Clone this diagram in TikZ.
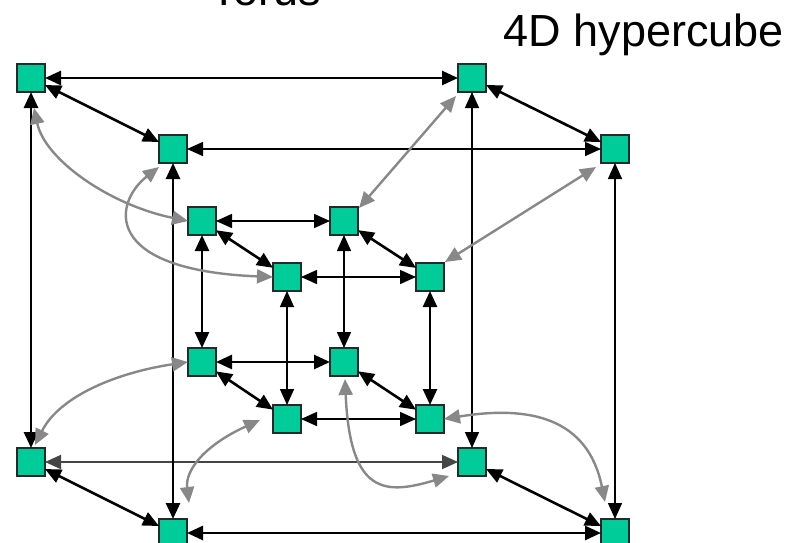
\documentclass[tikz,border=0pt]{standalone}
\usepackage{fontspec}
\setmainfont{Liberation Sans}
\usetikzlibrary{arrows.meta,calc}
\definecolor{nodefill}{RGB}{0,204,153}
\definecolor{nodeborder}{RGB}{40,40,40}
\definecolor{edgegrey}{RGB}{136,136,136}
\definecolor{darkline}{RGB}{70,70,70}
\begin{document}
\begin{tikzpicture}[x=1pt,y=-1pt,
  sq/.style={draw=nodeborder, line width=1.4pt, fill=nodefill, minimum size=28pt, inner sep=0pt, outer sep=0pt},
  tip/.style={{Triangle[length=16pt,width=14pt]}-{Triangle[length=16pt,width=14pt]}},
  thk/.style={tip, draw=black, line width=2.6pt},
  thn/.style={tip, draw=black, line width=1.5pt},
  mid/.style={tip, draw=darkline, line width=1.9pt},
  gry/.style={tip, draw=edgegrey, line width=2.4pt},
  title/.style={font=\fontsize{45}{54}\selectfont, text=black, inner sep=0pt}]
\useasboundingbox (0,0) rectangle (790,542);
% titles
\node[title, anchor=base] (torus) at (266,5) {Torus};
\node[title, anchor=base] (hyper) at (644,46) {4D hypercube};
% outer cube
\node[sq] (A1) at (31,78) {};
\node[sq] (A2) at (472,78) {};
\node[sq] (A3) at (31,462) {};
\node[sq] (A4) at (472,462) {};
\node[sq] (B1) at (173,149) {};
\node[sq] (B2) at (615,149) {};
\node[sq] (B3) at (173,533) {};
\node[sq] (B4) at (615,533) {};
% inner cube
\node[sq] (C1) at (202,221) {};
\node[sq] (C2) at (344,221) {};
\node[sq] (C3) at (202,362) {};
\node[sq] (C4) at (344,362) {};
\node[sq] (D1) at (287,277) {};
\node[sq] (D2) at (430,277) {};
\node[sq] (D3) at (287,419) {};
\node[sq] (D4) at (430,419) {};
% outer cube edges
\draw[thk] (A1) -- (A2);
\draw[thn] (B1) -- (B2);
\draw[mid] (A3) -- (A4);
\draw[thk] (B3) -- (B4);
\draw[thk] (A1) -- (A3);
\draw[thk] (B1) -- (B3);
\draw[thn] (A2) -- (A4);
\draw[thn] (B2) -- (B4);
\draw[thk] (A1) -- (B1);
\draw[thk] (A2) -- (B2);
\draw[thk] (A3) -- (B3);
\draw[thk] (A4) -- (B4);
% inner cube edges
\draw[thn] (C1) -- (C2);
\draw[thn] (D1) -- (D2);
\draw[thk] (C3) -- (C4);
\draw[thn] (D3) -- (D4);
\draw[thk] (C1) -- (C3);
\draw[thn] (C2) -- (C4);
\draw[thn] (D1) -- (D3);
\draw[thk] (D2) -- (D4);
\draw[thk] (C1) -- (D1);
\draw[thk] (C2) -- (D2);
\draw[thk] (C3) -- (D3);
\draw[thk] (C4) -- (D4);
% grey links between the cubes
\draw[gry] (C1.west) .. controls (110,205) and (45,160) .. ([shift={(3,16)}]A1.south);
\draw[gry] (D1.west) .. controls (100,270) and (114,202) .. ([shift={(-14,4)}]B1.south);
\draw[gry] ([shift={(1,1)}]C2.north east) -- ([shift={(-2,4)}]A2.south west);
\draw[gry] ([shift={(1,-1)}]D2.north east) -- ([shift={(-5,4)}]B2.south west);
\draw[gry] (C3.west) .. controls (120,372) and (60,395) .. ([shift={(4,-3)}]A3.north);
\draw[gry] ([shift={(-13,1)}]D3.west) .. controls (205,445) and (185,470) .. ([shift={(16,-16)}]B3.north);
\draw[gry] ([shift={(1,3)}]C4.south) .. controls (350,495) and (385,495) .. ([shift={(-9,0)}]A4.south west);
\draw[gry] (D4.east) .. controls (530,405) and (588,418) .. ([shift={(-10,-17)}]B4.north);
\end{tikzpicture}
\end{document}
